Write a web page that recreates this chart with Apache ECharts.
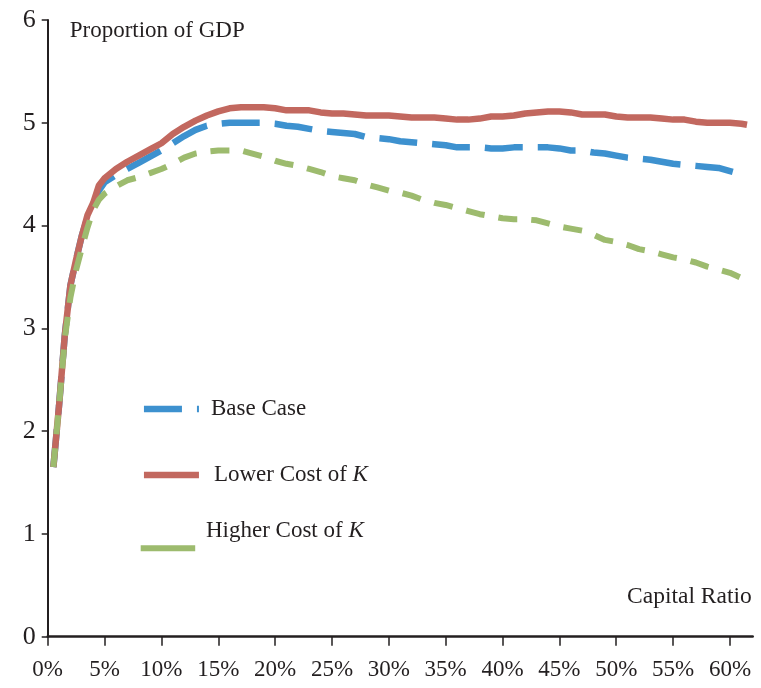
<!DOCTYPE html>
<html>
<head>
<meta charset="utf-8">
<script src="https://cdn.jsdelivr.net/npm/echarts@6/dist/echarts.min.js"></script>
<style>
html,body{margin:0;padding:0;background:#fff;}
#chart{width:761px;height:688px;}
</style>
</head>
<body>
<div id="chart"></div>
<script>
// Capital ratio (%)
const capitalRatio = [0.5,1,1.5,2,2.5,3,3.5,4,4.5,5,
  6,7,8,9,10,11,12,13,14,15,
  16,17,18,19,20,21,22,23,24,25,
  26,27,28,29,30,31,32,33,34,35,
  36,37,38,39,40,41,42,43,44,45,
  46,47,48,49,50,51,52,53,54,55,
  56,57,58,59,60,61,61.5];

const baseCase = [1.65,2.25,2.93,3.42,3.67,3.90,4.08,4.20,4.34,4.42,
  4.49,4.55,4.61,4.67,4.73,4.80,4.87,4.93,4.97,4.99,
  5.00,5.00,5.00,5.00,4.99,4.97,4.96,4.94,4.92,4.91,
  4.90,4.89,4.86,4.85,4.84,4.82,4.81,4.80,4.79,4.78,
  4.76,4.76,4.76,4.75,4.75,4.76,4.76,4.76,4.76,4.75,
  4.73,4.73,4.71,4.70,4.68,4.66,4.65,4.64,4.62,4.60,
  4.59,4.58,4.57,4.56,4.53,4.50,null];

const lowerCost = [1.65,2.25,2.93,3.42,3.67,3.90,4.10,4.22,4.39,4.46,
  4.55,4.62,4.68,4.74,4.80,4.89,4.96,5.02,5.07,5.11,
  5.14,5.15,5.15,5.15,5.14,5.12,5.12,5.12,5.10,5.09,
  5.09,5.08,5.07,5.07,5.07,5.06,5.05,5.05,5.05,5.04,
  5.03,5.03,5.04,5.06,5.06,5.07,5.09,5.10,5.11,5.11,
  5.10,5.08,5.08,5.08,5.06,5.05,5.05,5.05,5.04,5.03,
  5.03,5.01,5.00,5.00,5.00,4.99,4.98];

const higherCost = [1.65,2.25,2.90,3.30,3.57,3.78,3.98,4.15,4.25,4.31,
  4.38,4.44,4.47,4.51,4.55,4.60,4.66,4.70,4.72,4.73,
  4.73,4.73,4.70,4.67,4.63,4.60,4.58,4.55,4.52,4.48,
  4.46,4.44,4.40,4.37,4.34,4.32,4.29,4.25,4.22,4.20,
  4.17,4.14,4.11,4.09,4.07,4.06,4.06,4.05,4.02,3.99,
  3.97,3.95,3.91,3.86,3.84,3.81,3.77,3.75,3.72,3.69,
  3.67,3.64,3.60,3.57,3.54,3.49,null];

const seriesNames = ['Base Case', 'Lower Cost of K', 'Higher Cost of K'];
const xTicks = [0,5,10,15,20,25,30,35,40,45,50,55,60];
const yTicks = [0,1,2,3,4,5,6];
const yAxisTitle = 'Proportion of GDP';
const xAxisTitle = 'Capital Ratio';

const INK = '#231f20';
const FONT = 'Liberation Serif';
const colors = ['#3d91cf', '#c2685f', '#9dbb6e'];

function pairs(ys) {
  const out = [];
  for (let i = 0; i < capitalRatio.length; i++) {
    if (ys[i] != null) out.push([capitalRatio[i], ys[i]]);
  }
  return out;
}

const richText = {
  n: { fontFamily: FONT, fontSize: 23, color: INK },
  i: { fontFamily: FONT, fontSize: 23, color: INK, fontStyle: 'italic' }
};
function legendFormatter(name) {
  const m = name.match(/^(.*)\bK$/);
  if (m) return '{n|' + m[1] + '}{i|K}';
  return '{n|' + name + '}';
}
function makeLegend(name, top, padLeft, padBottom, hideIcon) {
  const lg = {
    data: [name],
    orient: 'vertical',
    left: 140.7,
    top: top,
    padding: 0,
    itemWidth: 55,
    itemHeight: 7,
    lineStyle: { width: 6.5 },
    formatter: legendFormatter,
    selectedMode: false,
    textStyle: {
      fontFamily: FONT, fontSize: 23, color: INK,
      padding: [0, 0, padBottom, padLeft],
      rich: richText
    }
  };
  if (hideIcon) {
    // key of this entry is drawn solid (see graphic below), as in the source figure
    lg.itemStyle = { opacity: 0 };
    lg.lineStyle = { width: 6.5, opacity: 0 };
  }
  return lg;
}

const chart = echarts.init(document.getElementById('chart'), null, { renderer: 'canvas' });
chart.setOption({
  animation: false,
  backgroundColor: '#ffffff',
  grid: { left: 47.7, right: 8.3, top: 19.9, bottom: 51.3, containLabel: false, outerBoundsMode: 'none' },
  legend: [
    makeLegend(seriesNames[0], 397.5, 7, 0, false),
    makeLegend(seriesNames[1], 463.5, 10, 0, false),
    makeLegend(seriesNames[2], 519.8, 2, 34, true)
  ],
  graphic: [
    {
      type: 'rect',
      left: 140.7,
      top: 545.3,
      silent: true,
      shape: { width: 54.5, height: 6 },
      style: { fill: colors[2] }
    }
  ],
  xAxis: {
    type: 'value',
    min: 0, max: 62, interval: 5,
    name: xAxisTitle,
    nameLocation: 'end',
    nameGap: -1,
    nameMoveOverlap: false,
    nameTextStyle: {
      fontFamily: FONT, fontSize: 23.5, color: INK,
      align: 'right', verticalAlign: 'bottom',
      padding: [0, 0, 28, 0]
    },
    axisLine: { show: true, onZero: false, lineStyle: { color: INK, width: 2.5 } },
    axisTick: { show: true, length: 9, customValues: xTicks, lineStyle: { color: INK, width: 1.5 } },
    axisLabel: {
      customValues: xTicks,
      formatter: function (v) { return v + '%'; },
      margin: 22, fontFamily: FONT, fontSize: 23, color: INK
    },
    splitLine: { show: false }
  },
  yAxis: {
    type: 'value',
    min: 0, max: 6, interval: 1,
    name: yAxisTitle,
    nameLocation: 'end',
    nameGap: -11,
    nameMoveOverlap: false,
    nameTextStyle: {
      fontFamily: FONT, fontSize: 23, color: INK,
      align: 'left', verticalAlign: 'middle',
      padding: [0, 0, 0, 22]
    },
    axisLine: { show: true, onZero: false, lineStyle: { color: INK, width: 2 } },
    axisTick: { show: true, length: 6, customValues: yTicks, lineStyle: { color: INK, width: 1.5 } },
    axisLabel: { customValues: yTicks, margin: 12, fontFamily: FONT, fontSize: 26, color: INK },
    splitLine: { show: false }
  },
  series: [
    {
      name: seriesNames[0], type: 'line', data: pairs(baseCase),
      symbol: 'none', showSymbol: false, smooth: false,
      itemStyle: { color: colors[0] },
      lineStyle: { color: colors[0], width: 6.5, type: [38, 15] }
    },
    {
      name: seriesNames[1], type: 'line', data: pairs(lowerCost),
      symbol: 'none', showSymbol: false, smooth: false,
      itemStyle: { color: colors[1] },
      lineStyle: { color: colors[1], width: 6.5, type: 'solid' }
    },
    {
      name: seriesNames[2], type: 'line', data: pairs(higherCost),
      symbol: 'none', showSymbol: false, smooth: false,
      itemStyle: { color: colors[2] },
      lineStyle: { color: colors[2], width: 6, type: [19, 14] }
    }
  ]
});
</script>
</body>
</html>
